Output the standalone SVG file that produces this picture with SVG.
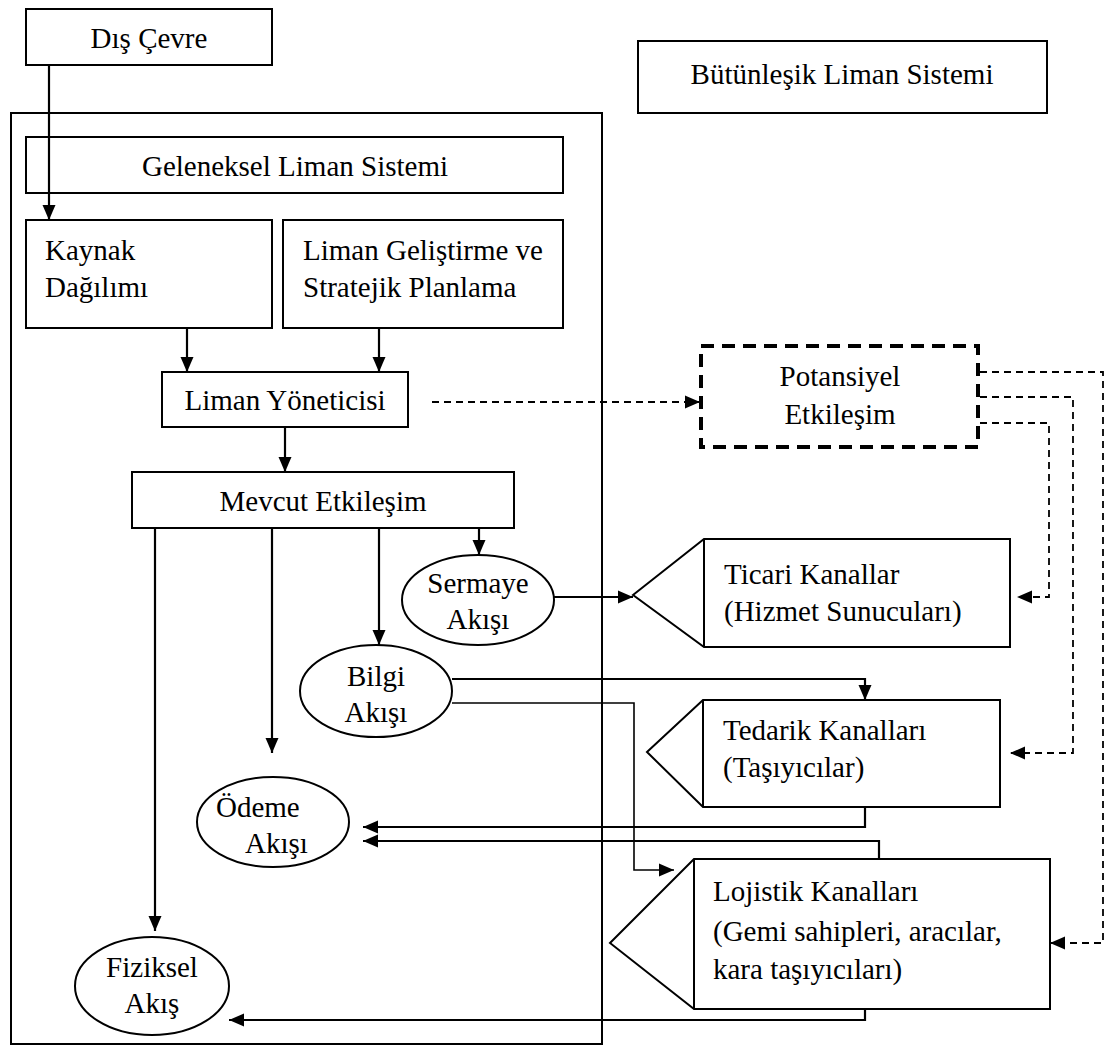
<svg xmlns="http://www.w3.org/2000/svg" width="1107" height="1046" viewBox="0 0 1107 1046">
  <style>
    .box { fill: #fff; stroke: #000; stroke-width: 2; }
    .frame { fill: none; stroke: #000; stroke-width: 2; }
    .potential { fill: #fff; stroke: #000; stroke-width: 4; stroke-dasharray: 13 8; }
    .lbl { font-family: "Liberation Serif", "Times New Roman", serif; font-size: 29px; fill: #000; }
    .mid { text-anchor: middle; }
    .wire { fill: none; stroke: #000; stroke-width: 2.2; marker-end: url(#head); }
    .thin { stroke-width: 1.6; }
    .dash { stroke-width: 1.8; stroke-dasharray: 7 5; }
  </style>
  <defs>
    <marker id="head" markerUnits="userSpaceOnUse" markerWidth="16" markerHeight="14" refX="15" refY="7" orient="auto">
      <path d="M0,0.5 L15,7 L0,13.5 Z" fill="#000"/>
    </marker>
  </defs>

  <rect width="1107" height="1046" fill="#fff"/>

  <!-- traditional port system frame -->
  <rect class="frame" x="11" y="113" width="591" height="931"/>

  <g id="dis-cevre">
    <rect class="box" x="26" y="9" width="246" height="56"/>
    <text class="lbl mid" x="149" y="48">Dış Çevre</text>
  </g>

  <g id="butunlesik">
    <rect class="box" x="638" y="41" width="409" height="72"/>
    <text class="lbl mid" x="842" y="84">Bütünleşik Liman Sistemi</text>
  </g>

  <g id="geleneksel">
    <rect class="box" x="26" y="137" width="537" height="56"/>
    <text class="lbl mid" x="295" y="176">Geleneksel Liman Sistemi</text>
  </g>

  <g id="kaynak">
    <rect class="box" x="26" y="220" width="246" height="108"/>
    <text class="lbl" x="45" y="260">Kaynak</text>
    <text class="lbl" x="45" y="297">Dağılımı</text>
  </g>

  <g id="gelistirme">
    <rect class="box" x="283" y="220" width="280" height="108"/>
    <text class="lbl" x="303" y="260">Liman Geliştirme ve</text>
    <text class="lbl" x="303" y="297">Stratejik Planlama</text>
  </g>

  <g id="yonetici">
    <rect class="box" x="162" y="372" width="246" height="55"/>
    <text class="lbl mid" x="285" y="410">Liman Yöneticisi</text>
  </g>

  <g id="potansiyel">
    <rect class="potential" x="701" y="346" width="277" height="101"/>
    <text class="lbl mid" x="840" y="386">Potansiyel</text>
    <text class="lbl mid" x="840" y="424">Etkileşim</text>
  </g>

  <g id="mevcut">
    <rect class="box" x="132" y="472" width="382" height="56"/>
    <text class="lbl mid" x="323" y="511">Mevcut Etkileşim</text>
  </g>

  <g id="sermaye">
    <ellipse class="box" cx="478" cy="600" rx="76" ry="45"/>
    <text class="lbl mid" x="478" y="593">Sermaye</text>
    <text class="lbl mid" x="478" y="629">Akışı</text>
  </g>

  <g id="bilgi">
    <ellipse class="box" cx="376" cy="691" rx="76" ry="46"/>
    <text class="lbl mid" x="376" y="686">Bilgi</text>
    <text class="lbl mid" x="376" y="722">Akışı</text>
  </g>

  <g id="odeme">
    <ellipse class="box" cx="273" cy="822" rx="76" ry="45"/>
    <text class="lbl" x="216" y="817">Ödeme</text>
    <text class="lbl" x="245" y="853">Akışı</text>
  </g>

  <g id="fiziksel">
    <ellipse class="box" cx="152" cy="986" rx="77" ry="49"/>
    <text class="lbl mid" x="152" y="977">Fiziksel</text>
    <text class="lbl mid" x="152" y="1013">Akış</text>
  </g>

  <g id="ticari">
    <polygon class="box" points="633,595 704,539 1010,539 1010,647 704,647"/>
    <line class="frame" x1="704" y1="539" x2="704" y2="647"/>
    <text class="lbl" x="724" y="584">Ticari Kanallar</text>
    <text class="lbl" x="724" y="621">(Hizmet Sunucuları)</text>
  </g>

  <g id="tedarik">
    <polygon class="box" points="647,752 703,700 1000,700 1000,807 703,807"/>
    <line class="frame" x1="703" y1="700" x2="703" y2="807"/>
    <text class="lbl" x="723" y="740">Tedarik Kanalları</text>
    <text class="lbl" x="723" y="777">(Taşıyıcılar)</text>
  </g>

  <g id="lojistik">
    <polygon class="box" points="610,943 694,859 1050,859 1050,1009 694,1009"/>
    <line class="frame" x1="694" y1="859" x2="694" y2="1009"/>
    <text class="lbl" x="713" y="901">Lojistik Kanalları</text>
    <text class="lbl" x="713" y="941">(Gemi sahipleri, aracılar,</text>
    <text class="lbl" x="713" y="979">kara taşıyıcıları)</text>
  </g>

  <g id="connectors">
    <path class="wire" d="M49,65 V220"/>
    <path class="wire" d="M187,328 V372"/>
    <path class="wire" d="M379,328 V372"/>
    <path class="wire" d="M285,427 V472"/>
    <path class="wire dash" d="M432,402 H700"/>
    <path class="wire" d="M155,528 V931"/>
    <path class="wire" d="M272,528 V753"/>
    <path class="wire" d="M379,528 V645"/>
    <path class="wire" d="M479,528 V555"/>
    <path class="wire" d="M554,597 H633"/>
    <path class="wire" d="M452,679 H865 V700"/>
    <path class="wire thin" d="M452,703 H634 V870 H674"/>
    <path class="wire" d="M865,807 V827 H363"/>
    <path class="wire" d="M879,859 V841 H363"/>
    <path class="wire" d="M865,1009 V1020 H229"/>
    <path class="wire dash" d="M980,423 H1049 V597 H1017"/>
    <path class="wire dash" d="M980,397 H1073 V753 H1010"/>
    <path class="wire dash" d="M980,372 H1103 V943 H1050"/>
  </g>
</svg>
